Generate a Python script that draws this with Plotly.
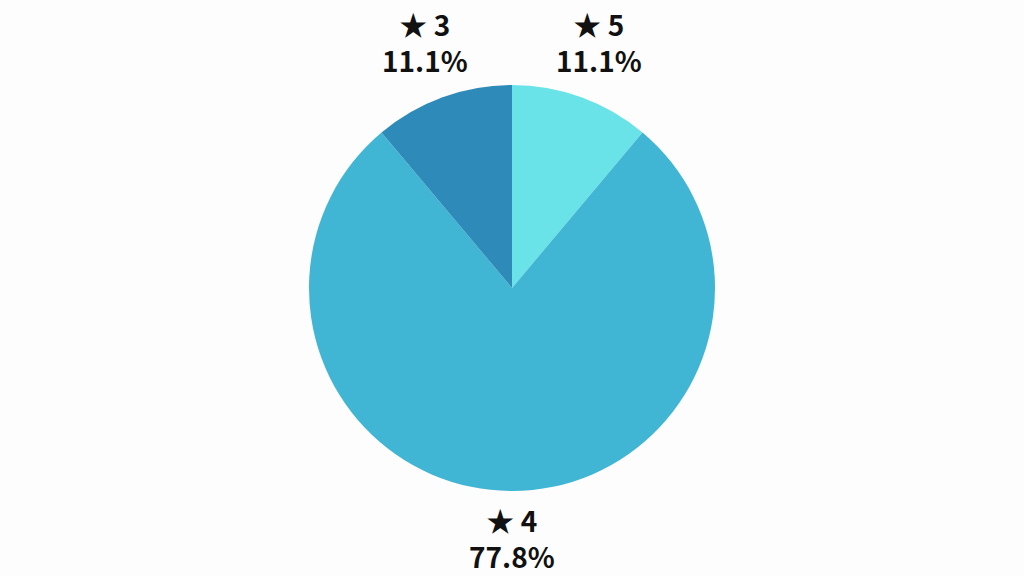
import math
import plotly.graph_objects as go

labels = ["★ 5", "★ 4", "★ 3"]
values = [1, 7, 1]
colors = ["#69E3E8", "#41B5D4", "#2E8AB8"]

W, H = 1024, 576
MT, MB = 85, 85
plot_h = H - MT - MB
radius_px = plot_h / 2
label_r = radius_px + 52.5  # distance of label centre from pie centre (px)
label_lift = 6              # small upward shift of label blocks (px)

fig = go.Figure(go.Pie(
    labels=labels,
    values=values,
    sort=False,
    direction="clockwise",
    rotation=0,
    marker=dict(colors=colors, line=dict(width=0)),
    textinfo="none",
    showlegend=False,
    hoverinfo="label+percent",
))

total = sum(values)
cum = 0
for lab, v in zip(labels, values):
    mid = (cum + v / 2) / total * 2 * math.pi
    cum += v
    dx = label_r * math.sin(mid)
    dy = label_r * math.cos(mid) + label_lift
    pct = v / total * 100
    fig.add_annotation(
        x=0.5 + dx / W,
        y=0.5 + dy / plot_h,
        xref="paper", yref="paper",
        xanchor="center", yanchor="middle",
        text=f"{lab}<br>{pct:.1f}%",
        showarrow=False,
        font=dict(family="Noto Sans CJK JP", size=28, color="#111111", weight="bold"),
    )

fig.update_layout(
    width=W,
    height=H,
    margin=dict(l=0, r=0, t=MT, b=MB),
    paper_bgcolor="#FDFDFD",
    plot_bgcolor="#FDFDFD",
    font=dict(family="Noto Sans CJK JP"),
)

fig.write_html(
    "out.html",
    config={"displayModeBar": False},
    post_script="document.body.style.margin='0';document.body.style.overflow='hidden';",
)
